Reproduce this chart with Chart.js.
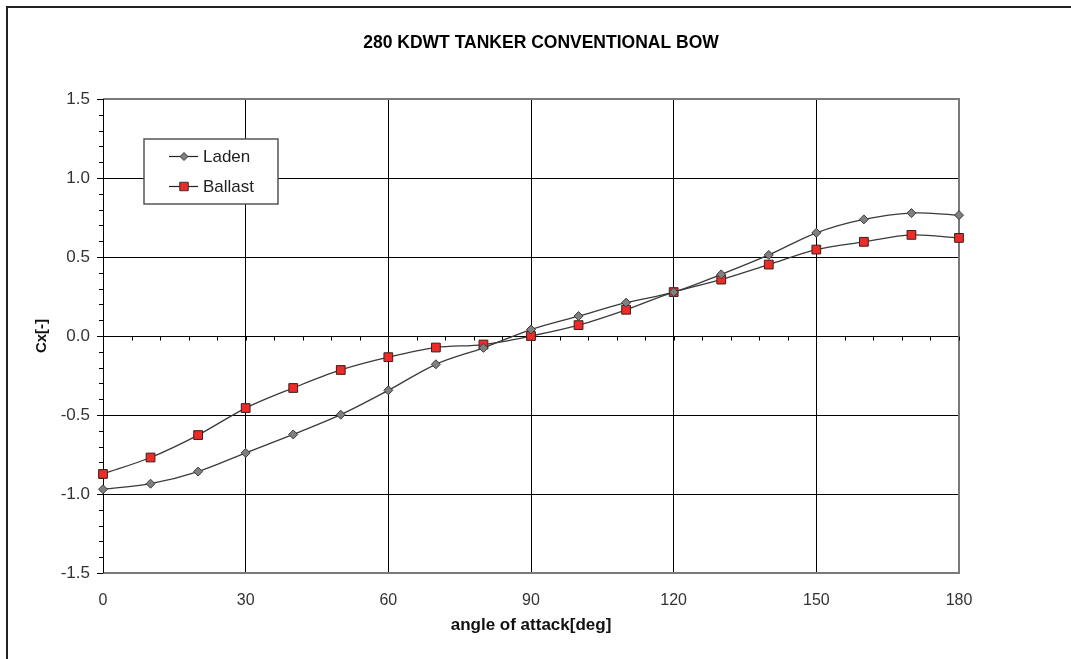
<!DOCTYPE html>
<html>
<head>
<meta charset="utf-8">
<script src="https://cdn.jsdelivr.net/npm/chart.js@4/dist/chart.umd.min.js"></script>
<style>
  html, body { margin: 0; padding: 0; background: #fff; }
  canvas { display: block; }
</style>
</head>
<body>
<canvas id="c" width="1071" height="659"></canvas>
<script>
const chartTitle = '280 KDWT TANKER CONVENTIONAL BOW';
const xTitle = 'angle of attack[deg]';
const yTitle = 'Cx[-]';
const angles = [0, 10, 20, 30, 40, 50, 60, 70, 80, 90, 100, 110, 120, 130, 140, 150, 160, 170, 180];
const laden = [-0.97, -0.935, -0.858, -0.74, -0.623, -0.498, -0.344, -0.179, -0.075, 0.041, 0.126, 0.211, 0.278, 0.39, 0.513, 0.653, 0.738, 0.778, 0.765];
const ballast = [-0.873, -0.769, -0.627, -0.456, -0.329, -0.215, -0.134, -0.073, -0.054, 0.0, 0.069, 0.166, 0.278, 0.357, 0.452, 0.547, 0.596, 0.64, 0.621];
const seriesNames = ['Laden', 'Ballast'];
const xMin = 0, xMax = 180, xStep = 30, xMinorStep = 6;
const yMin = -1.5, yMax = 1.5, yStep = 0.5, yMinorStep = 0.1;

const FONT = '"Liberation Sans", Arial, sans-serif';
const LINE_COLOR = '#3a3a3a';
const DIAMOND_FILL = '#808080';
const SQUARE_FILL = '#ee2b26';

const decor = {
  id: 'decor',
  beforeDatasetsDraw(chart) {
    const {ctx, chartArea: a, scales: {x, y}} = chart;
    ctx.save();
    ctx.strokeStyle = '#7a7a7a';
    ctx.lineWidth = 2;
    ctx.beginPath();
    ctx.moveTo(a.left, a.top);
    ctx.lineTo(a.right, a.top);
    ctx.lineTo(a.right, a.bottom);
    ctx.lineTo(a.left, a.bottom);
    ctx.stroke();
    ctx.strokeStyle = '#000';
    ctx.lineWidth = 1;
    ctx.beginPath();
    ctx.moveTo(a.left + 0.5, a.top);
    ctx.lineTo(a.left + 0.5, a.bottom);
    ctx.stroke();
    ctx.beginPath();
    for (let v = yMin; v <= yMax + 1e-9; v += yMinorStep) {
      const py = Math.round(y.getPixelForValue(v)) + 0.5;
      ctx.moveTo(a.left - 4, py);
      ctx.lineTo(a.left, py);
    }
    ctx.stroke();
    const y0 = Math.round(y.getPixelForValue(0)) + 0.5;
    ctx.beginPath();
    for (let v = xMin; v <= xMax + 1e-9; v += xMinorStep) {
      const px = Math.round(x.getPixelForValue(v)) + 0.5;
      ctx.moveTo(px, y0);
      ctx.lineTo(px, y0 + 4);
    }
    ctx.stroke();
    ctx.restore();
  },
  afterDraw(chart) {
    const {ctx} = chart;
    ctx.save();
    ctx.strokeStyle = '#222';
    ctx.lineWidth = 2;
    ctx.beginPath();
    ctx.moveTo(7, 659);
    ctx.lineTo(7, 7);
    ctx.lineTo(1071, 7);
    ctx.stroke();
    ctx.fillStyle = '#000';
    ctx.font = 'bold 17.5px ' + FONT;
    ctx.textAlign = 'center';
    ctx.textBaseline = 'middle';
    ctx.fillText(chartTitle, 541, 43);
    const lx = 144, ly = 139, lw = 134, lh = 65;
    ctx.fillStyle = '#fff';
    ctx.fillRect(lx, ly, lw, lh);
    ctx.strokeStyle = '#555';
    ctx.lineWidth = 1.5;
    ctx.strokeRect(lx, ly, lw, lh);
    const rows = [
      {name: seriesNames[0], y: 156, style: 'rectRot', r: 4, fill: DIAMOND_FILL},
      {name: seriesNames[1], y: 186, style: 'rect', r: 6, fill: SQUARE_FILL}
    ];
    rows.forEach(row => {
      ctx.strokeStyle = '#222';
      ctx.lineWidth = 1.2;
      ctx.beginPath();
      ctx.moveTo(169, row.y + 0.5);
      ctx.lineTo(198, row.y + 0.5);
      ctx.stroke();
      ctx.fillStyle = row.fill;
      ctx.strokeStyle = '#333';
      ctx.lineWidth = 1;
      ctx.beginPath();
      if (row.style === 'rect') {
        const s = row.r * Math.SQRT1_2;
        ctx.rect(184 - s, row.y + 0.5 - s, 2 * s, 2 * s);
      } else {
        ctx.moveTo(184, row.y + 0.5 - row.r);
        ctx.lineTo(184 + row.r, row.y + 0.5);
        ctx.lineTo(184, row.y + 0.5 + row.r);
        ctx.lineTo(184 - row.r, row.y + 0.5);
        ctx.closePath();
      }
      ctx.fill();
      ctx.stroke();
      ctx.fillStyle = '#222';
      ctx.font = '17px ' + FONT;
      ctx.textAlign = 'left';
      ctx.textBaseline = 'middle';
      ctx.fillText(row.name, 203, row.y + 1);
    });
    ctx.restore();
  }
};

new Chart(document.getElementById('c'), {
  type: 'line',
  data: {
    datasets: [
      {
        label: seriesNames[0],
        data: angles.map((a, i) => ({x: a, y: laden[i]})),
        borderColor: LINE_COLOR,
        borderWidth: 1.3,
        pointStyle: 'rectRot',
        pointRadius: 4.5,
        pointBackgroundColor: DIAMOND_FILL,
        pointBorderColor: '#3a3a3a',
        pointBorderWidth: 1,
        tension: 0.33,
        clip: false,
        fill: false
      },
      {
        label: seriesNames[1],
        data: angles.map((a, i) => ({x: a, y: ballast[i]})),
        borderColor: LINE_COLOR,
        borderWidth: 1.3,
        pointStyle: 'rect',
        pointRadius: 6.2,
        pointBackgroundColor: SQUARE_FILL,
        pointBorderColor: '#3a2020',
        pointBorderWidth: 1,
        tension: 0.33,
        clip: false,
        fill: false
      }
    ]
  },
  options: {
    responsive: false,
    animation: false,
    devicePixelRatio: 1,
    layout: { padding: { top: 99, right: 112, left: 0, bottom: 0 } },
    plugins: {
      legend: { display: false },
      title: { display: false },
      tooltip: { enabled: false }
    },
    scales: {
      x: {
        type: 'linear',
        min: xMin, max: xMax,
        afterFit(scale) { scale.height = 86; },
        ticks: {
          stepSize: xStep,
          color: '#333',
          font: { family: FONT, size: 16 },
          padding: 18,
          maxRotation: 0
        },
        grid: { color: '#000', lineWidth: 1, drawTicks: false },
        border: { display: false },
        title: {
          display: true,
          text: xTitle,
          color: '#111',
          font: { family: FONT, size: 17, weight: 'bold' },
          padding: { top: 0, bottom: 23 }
        }
      },
      y: {
        type: 'linear',
        min: yMin, max: yMax,
        afterFit(scale) { scale.width = 103; },
        ticks: {
          stepSize: yStep,
          color: '#333',
          font: { family: FONT, size: 17 },
          padding: 7,
          callback: v => Number(v).toFixed(1)
        },
        grid: { color: '#000', lineWidth: 1, drawTicks: true, tickLength: 6 },
        border: { display: false },
        title: {
          display: true,
          text: yTitle,
          color: '#111',
          font: { family: FONT, size: 15, weight: 'bold' },
          padding: { top: 33, bottom: 0 }
        }
      }
    }
  },
  plugins: [decor]
});
</script>
</body>
</html>
